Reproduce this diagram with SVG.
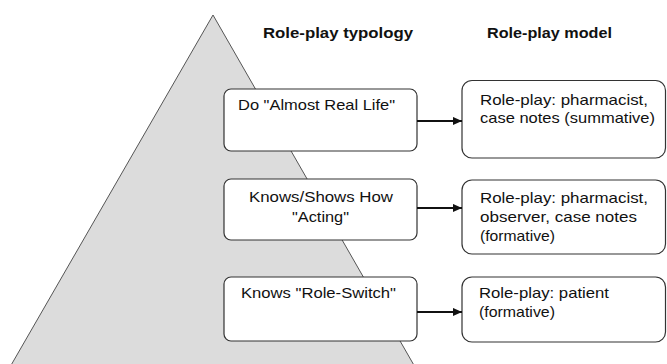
<svg xmlns="http://www.w3.org/2000/svg" width="667" height="364" viewBox="0 0 667 364">
<style>
.box{fill:#ffffff;stroke:#333333;stroke-width:1.2}
.t{font-family:"Liberation Sans",Arial,sans-serif;font-size:15px;fill:#111111}
.h{font-family:"Liberation Sans",Arial,sans-serif;font-size:15px;font-weight:bold;fill:#111111}
.arr{stroke:#111111;stroke-width:1.8;fill:none}
</style>
<defs>
<marker id="ah" viewBox="0 0 10 10" refX="10" refY="5" markerWidth="9" markerHeight="9" orient="auto" markerUnits="userSpaceOnUse">
<path d="M0,0.5 L10,5 L0,9.5 z" fill="#111111"/>
</marker>
</defs>
<rect width="667" height="364" fill="#ffffff"/>
<g id="pyramid">
<polygon points="213,15 415,367 10,367" fill="#dcdcdc" stroke="#555555" stroke-width="1"/>
</g>
<g id="headers">
<text class="h" x="263" y="38" textLength="150" lengthAdjust="spacingAndGlyphs">Role-play typology</text>
<text class="h" x="487" y="38" textLength="125" lengthAdjust="spacingAndGlyphs">Role-play model</text>
</g>
<g id="typ-do">
<rect class="box" x="224" y="89" width="193" height="62" rx="7"/>
<text class="t" x="238" y="110" textLength="157" lengthAdjust="spacingAndGlyphs">Do "Almost Real Life"</text>
</g>
<g id="typ-shows">
<rect class="box" x="224" y="179" width="193" height="61" rx="7"/>
<text class="t" x="249" y="202" textLength="144" lengthAdjust="spacingAndGlyphs">Knows/Shows How</text>
<text class="t" x="292" y="222" textLength="57" lengthAdjust="spacingAndGlyphs">"Acting"</text>
</g>
<g id="typ-knows">
<rect class="box" x="224" y="277" width="193" height="64" rx="7"/>
<text class="t" x="241" y="298" textLength="155" lengthAdjust="spacingAndGlyphs">Knows "Role-Switch"</text>
</g>
<g id="model-1">
<rect class="box" x="462" y="80.5" width="203.5" height="77.5" rx="10"/>
<text class="t" x="480" y="105" textLength="168" lengthAdjust="spacingAndGlyphs">Role-play: pharmacist,</text>
<text class="t" x="480" y="123" textLength="175" lengthAdjust="spacingAndGlyphs">case notes (summative)</text>
</g>
<g id="model-2">
<rect class="box" x="462" y="180" width="203.5" height="74" rx="10"/>
<text class="t" x="480" y="203" textLength="168" lengthAdjust="spacingAndGlyphs">Role-play: pharmacist,</text>
<text class="t" x="480" y="222" textLength="157" lengthAdjust="spacingAndGlyphs">observer, case notes</text>
<text class="t" x="480" y="241" textLength="75" lengthAdjust="spacingAndGlyphs">(formative)</text>
</g>
<g id="model-3">
<rect class="box" x="462" y="277" width="203.5" height="65" rx="10"/>
<text class="t" x="479" y="298" textLength="130" lengthAdjust="spacingAndGlyphs">Role-play: patient</text>
<text class="t" x="479" y="317" textLength="76" lengthAdjust="spacingAndGlyphs">(formative)</text>
</g>
<g id="connectors">
<line class="arr" x1="417" y1="121" x2="462" y2="121" marker-end="url(#ah)"/>
<line class="arr" x1="417" y1="208" x2="462" y2="208" marker-end="url(#ah)"/>
<line class="arr" x1="417" y1="312" x2="462" y2="312" marker-end="url(#ah)"/>
</g>
</svg>
